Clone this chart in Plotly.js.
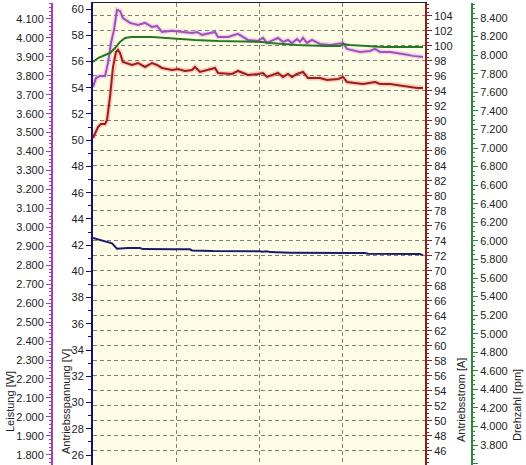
<!DOCTYPE html>
<html><head><meta charset="utf-8">
<script src="https://cdn.plot.ly/plotly-3.0.1.min.js"></script>
<style>html,body{margin:0;padding:0;background:#fff;overflow:hidden}#chart{width:526px;height:465px}</style>
</head><body><div id="chart"></div>
<script>
// Time (arbitrary units, one grid step = 1)
const tSpannung = [0,0.145,0.229,0.289,0.422,0.566,0.602,0.988,1.169,1.193,1.410,1.446,2.012,2.036,2.096,2.133,2.373,2.976,3.0,3.072,3.277,3.313,3.94,3.976];
const spannung = [42.54,42.31,42.14,41.73,41.79,41.78,41.70,41.68,41.68,41.60,41.60,41.55,41.53,41.49,41.53,41.47,41.43,41.40,41.35,41.40,41.40,41.35,41.32,41.22];

const tLeistung = [0,0.036,0.084,0.145,0.181,0.217,0.253,0.289,0.325,0.361,0.446,0.542,0.627,0.711,0.771,0.831,0.952,1.072,1.193,1.253,1.313,1.470,1.506,1.627,1.747,1.867,1.988,2.048,2.096,2.229,2.289,2.349,2.398,2.458,2.494,2.530,2.578,2.639,2.735,2.855,2.976,3.012,3.060,3.157,3.217,3.337,3.398,3.458,3.578,3.735,3.855,3.976];
const leistung = [3741,3788,3799,3799,3868,3973,4042,4148,4142,4105,4079,4068,4079,4058,4063,4031,4037,4031,4026,4031,4016,4031,4005,4005,4021,3989,3984,4000,3973,4000,3979,3989,3973,3994,3979,4000,3973,3989,3968,3963,3968,3973,3942,3931,3926,3931,3942,3926,3926,3915,3905,3899];

const tStrom = [0,0.060,0.096,0.145,0.169,0.205,0.241,0.277,0.301,0.325,0.361,0.398,0.470,0.542,0.627,0.711,0.771,0.831,0.952,1.024,1.108,1.193,1.229,1.289,1.470,1.506,1.675,1.747,1.867,1.988,2.048,2.096,2.229,2.289,2.349,2.398,2.458,2.530,2.590,2.735,2.819,2.952,3.012,3.060,3.253,3.398,3.458,3.578,3.735,3.904,3.976];
const strom = [87.73,89.2,89.6,89.6,90.13,93.2,97.2,99.2,99.47,99.07,97.87,97.73,97.47,97.73,97.2,97.73,97.47,97.07,96.8,96.93,96.67,96.8,97.2,96.53,97.07,96.4,96.27,96.67,96.13,96.27,96.4,95.87,96.4,95.87,96.27,95.87,96.27,96.53,95.73,95.73,95.47,95.6,95.87,95.2,94.93,95.2,94.93,94.93,94.67,94.4,94.4];

const tDrehzahl = [0,0.060,0.145,0.205,0.265,0.325,0.386,0.458,0.711,0.867,0.988,1.229,1.506,2.036,2.133,2.458,2.795,2.976,3.012,3.096,3.494,3.976];
const drehzahl = [7926,7969,8002,8023,8077,8142,8185,8195,8195,8185,8174,8163,8152,8142,8131,8109,8098,8098,8120,8109,8088,8088];

const titles = ["Leistung [W]","Antriebsspannung [V]","Antriebsstrom [A]","Drehzahl [rpm]"];

const W = 526, H = 465;
const tickFont = {family:"Liberation Sans, Arial, sans-serif", size:11, color:"#222"};
const cRed = "#a01c1c", cBlue = "#1a1a6e", cPurple = "#a24fbe", cGreen = "#237a23";
const gridDash = "4px,3px";

const traces = [
  {x:tStrom, y:strom, yaxis:"y", mode:"lines", line:{color:"rgba(220,80,80,0.25)", width:5}, hoverinfo:"skip"},
  {x:tStrom, y:strom, yaxis:"y", mode:"lines", line:{color:cRed, width:2}},
  {x:tSpannung, y:spannung, yaxis:"y2", mode:"lines", line:{color:cBlue, width:2}},
  {x:tLeistung, y:leistung, yaxis:"y3", mode:"lines", line:{color:"rgba(200,120,220,0.25)", width:5}, hoverinfo:"skip"},
  {x:tLeistung, y:leistung, yaxis:"y3", mode:"lines", line:{color:cPurple, width:2}},
  {x:tDrehzahl, y:drehzahl, yaxis:"y4", mode:"lines", line:{color:cGreen, width:2}}
];

const baseY = {zeroline:false, showline:true, linewidth:2, ticks:"outside", ticklen:5, tickwidth:1, tickfont:tickFont, fixedrange:true};

const layout = {
  width:W, height:H, showlegend:false,
  margin:{l:0, r:0, t:3, b:0, pad:0},
  paper_bgcolor:"#ffffff", plot_bgcolor:"#fffde6",
  separators:",.",
  xaxis:{domain:[93/W, 425/W], range:[0,4], dtick:1, tick0:0, showticklabels:false, ticks:"",
         showgrid:true, gridcolor:"#808078", griddash:gridDash, gridwidth:1, zeroline:false,
         showline:true, side:"top", linecolor:"#1a1a4a", linewidth:1.5, fixedrange:true},
  yaxis:Object.assign({}, baseY, {anchor:"x", side:"right", range:[44.13,105.73], dtick:2, tick0:0,
         linecolor:"#8b1e1e", tickcolor:"#8b1e1e", showgrid:true, gridcolor:"#808078", griddash:gridDash, gridwidth:1,
         minor:{dtick:0.5, ticks:"outside", ticklen:2, tickcolor:"#8b1e1e", showgrid:false}}),
  yaxis2:Object.assign({}, baseY, {overlaying:"y", anchor:"x", side:"left", range:[25.24,60.46], dtick:2, tick0:0,
         linecolor:"#10107a", tickcolor:"#10107a", showgrid:false,
         minor:{dtick:1, ticks:"outside", ticklen:3, tickcolor:"#10107a", showgrid:false}}),
  yaxis3:Object.assign({}, baseY, {overlaying:"y", anchor:"free", position:52/W, side:"left", range:[1746,4184], dtick:100, tick0:0,
         separatethousands:true, tickformat:",d",
         linecolor:"#a040b4", tickcolor:"#a040b4", showgrid:false,
         minor:{dtick:20, ticks:"outside", ticklen:2, tickcolor:"#a040b4", showgrid:false}}),
  yaxis4:Object.assign({}, baseY, {overlaying:"y", anchor:"free", position:472/W, side:"right", range:[3586,8562], dtick:200, tick0:0,
         separatethousands:true, tickformat:",d",
         linecolor:"#2a8a3a", tickcolor:"#2a8a3a", showgrid:false,
         minor:{dtick:50, ticks:"outside", ticklen:2, tickcolor:"#2a8a3a", showgrid:false}}),
  annotations:[
    {text:titles[0], x:10/W, y:(465-402)/462, xref:"paper", yref:"paper", textangle:-90, showarrow:false, xanchor:"center", yanchor:"middle", font:tickFont},
    {text:titles[1], x:66/W, y:(465-402)/462, xref:"paper", yref:"paper", textangle:-90, showarrow:false, xanchor:"center", yanchor:"middle", font:tickFont},
    {text:titles[2], x:461/W, y:(465-400)/462, xref:"paper", yref:"paper", textangle:-90, showarrow:false, xanchor:"center", yanchor:"middle", font:tickFont},
    {text:titles[3], x:517/W, y:(465-405)/462, xref:"paper", yref:"paper", textangle:-90, showarrow:false, xanchor:"center", yanchor:"middle", font:tickFont}
  ]
};

Plotly.newPlot("chart", traces, layout, {displayModeBar:false, staticPlot:true});
</script>
</body></html>
